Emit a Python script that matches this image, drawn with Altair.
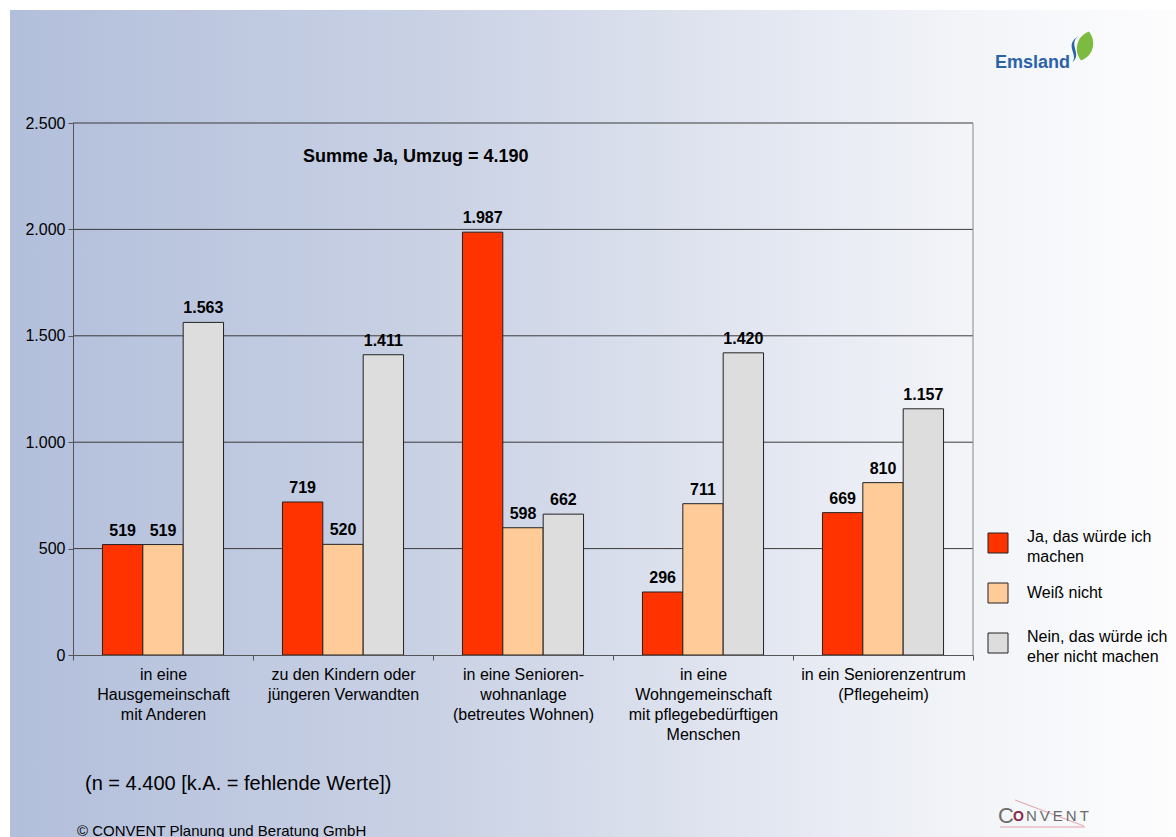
import altair as alt
import pandas as pd

# ---------------- data ----------------
categories = [
    "in eine|Hausgemeinschaft|mit Anderen",
    "zu den Kindern oder|jüngeren Verwandten",
    "in eine Senioren-|wohnanlage|(betreutes Wohnen)",
    "in eine|Wohngemeinschaft|mit pflegebedürftigen|Menschen",
    "in ein Seniorenzentrum|(Pflegeheim)",
]
series = ["Ja, das würde ich|machen", "Weiß nicht", "Nein, das würde ich|eher nicht machen"]
ja_values = [519, 719, 1987, 296, 669]
weiss_values = [519, 520, 598, 711, 810]
nein_values = [1563, 1411, 662, 1420, 1157]
series_colors = ["#FF3300", "#FFCC99", "#DDDDDD"]
y_ticks = [0, 500, 1000, 1500, 2000, 2500]

title_text = "Summe Ja, Umzug = 4.190"
note_text = "(n = 4.400 [k.A. = fehlende Werte])"
copyright_text = "© CONVENT Planung und Beratung GmbH"

rows = []
for ci, cat in enumerate(categories):
    for s, vals in zip(series, [ja_values, weiss_values, nein_values]):
        v = vals[ci]
        rows.append({"Kategorie": cat, "Antwort": s, "Wert": v,
                     "Label": f"{v:,}".replace(",", ".")})
df = pd.DataFrame(rows)

# ---------------- layout ----------------
W, H = 900, 532
PL, PT, PR, PB = 73, 123, 203, 182
FONT = "Liberation Sans, Arial, sans-serif"

one = pd.DataFrame({"a": [0]})

gradient = alt.Gradient(
    gradient="linear",
    stops=[
        alt.GradientStop(color="#b2bfdb", offset=0),
        alt.GradientStop(color="#c9d1e4", offset=0.36),
        alt.GradientStop(color="#e1e5f0", offset=0.62),
        alt.GradientStop(color="#f2f4f8", offset=0.82),
        alt.GradientStop(color="#fdfdfe", offset=1),
    ],
    x1=0, x2=1, y1=0, y2=0,
)

bg = alt.Chart(one).mark_rect(fill=gradient, clip=False).encode(
    x=alt.value(-PL + 10), x2=alt.value(W + PR),
    y=alt.value(-PT + 10), y2=alt.value(H + PB),
)

y_scale = alt.Scale(domain=[0, 2500], nice=False)
y_axis = alt.Axis(
    values=y_ticks, grid=False, tickSize=5, labelPadding=3,
    labelExpr="replace(format(datum.value, ','), ',', '.')",
    labelFontSize=16, labelFont=FONT, labelColor="#000",
    domainColor="#555", tickColor="#555", zindex=1, title=None,
)

grid = alt.Chart(pd.DataFrame({"Wert": y_ticks[1:]})).mark_rule(
    color="#3a3a3a", strokeWidth=1
).encode(y=alt.Y("Wert:Q", scale=y_scale, axis=y_axis, title=None))

right_border = alt.Chart(one).mark_rule(color="#8a8a8a", strokeWidth=1).encode(
    x=alt.value(W), y=alt.value(0), y2=alt.value(H)
)

x_enc = alt.X(
    "Kategorie:N", sort=categories, title=None,
    scale=alt.Scale(paddingInner=0, paddingOuter=0),
    axis=alt.Axis(
        labelExpr="split(datum.label, '|')", labelAngle=0, tickBand="extent",
        tickSize=5, labelPadding=6, labelLineHeight=20, labelFontSize=16,
        labelFont=FONT, labelColor="#000", domainColor="#555", tickColor="#555",
        labelLimit=300, zindex=1,
    ),
)
xo_enc = alt.XOffset(
    "Antwort:N", sort=series,
    scale=alt.Scale(domain=series, paddingOuter=0.73, paddingInner=0),
)
y_enc = alt.Y("Wert:Q", scale=y_scale, title=None, axis=y_axis)

bars = alt.Chart(df).mark_bar(stroke="#222", strokeWidth=1).encode(
    x=x_enc, xOffset=xo_enc, y=y_enc,
    color=alt.Color("Antwort:N", sort=series,
                    scale=alt.Scale(domain=series, range=series_colors), legend=None),
)

labels = alt.Chart(df).mark_text(
    dy=-9, baseline="alphabetic", fontWeight="bold", fontSize=16, font=FONT, color="#000"
).encode(x=x_enc, xOffset=xo_enc, y=y_enc, text="Label:N")


def free_text(txt, x, y, size, weight="normal", color="#000", align="left",
              baseline="alphabetic", **kw):
    return alt.Chart(one).mark_text(
        text=txt, fontSize=size, fontWeight=weight, color=color, font=FONT,
        align=align, baseline=baseline, clip=False, **kw,
    ).encode(x=alt.value(x), y=alt.value(y))


# legend (built from the series list)
legend_layers = []
for i, (s, c) in enumerate(zip(series, series_colors)):
    top = 533 - PT + 50 * i
    lines = s.split("|")
    legend_layers.append(
        alt.Chart(one).mark_rect(fill=c, stroke="#222", strokeWidth=1, clip=False).encode(
            x=alt.value(988 - PL), x2=alt.value(1008 - PL),
            y=alt.value(top), y2=alt.value(top + 20))
    )
    ty = top + (4 if len(lines) > 1 else 10)
    legend_layers.append(
        free_text(lines, 1027 - PL, ty, 16, baseline="middle", lineHeight=20)
    )

title = free_text(title_text, 303 - PL, 162 - PT, 18, "bold")
note = free_text(note_text, 85 - PL, 790 - PT, 20)
copyright_ = free_text(copyright_text, 77 - PL, 836 - PT, 15)

# Emsland logo (approximation)
emsland = free_text("Emsland", 995 - PL, 68 - PT, 18, "bold", "#2a62a8")
leaf = "M0,-1 C0.7,-0.5 0.7,0.5 0,1 C-0.7,0.5 -0.7,-0.5 0,-1 Z"
swoosh = "M0.3,-1 C-0.6,-0.4 0.6,0.4 -0.2,1 C0.3,0.4 -0.9,-0.3 0.3,-1 Z"
leaf1 = alt.Chart(one).mark_point(shape=leaf, filled=True, color="#7cbb3f", size=900,
                                  opacity=1, angle=15).encode(
    x=alt.value(1085 - PL), y=alt.value(46 - PT))
leaf2 = alt.Chart(one).mark_point(shape=swoosh, filled=True, color="#2a62a8", size=700,
                                  opacity=1, angle=0).encode(
    x=alt.value(1075 - PL), y=alt.value(49 - PT))

# CONVENT logo (approximation)
conv_c = free_text("C", 998 - PL, 823 - PT, 22, "normal", "#6d6d6d")
conv_o = free_text("O", 1013 - PL, 821 - PT, 14, "bold", "#8b2a45")
conv_rest = free_text("N\u2009V\u2009E\u2009N\u2009T", 1026 - PL, 821 - PT, 15, "normal", "#6a6a6a")
conv_line = alt.Chart(one).mark_rule(color="#e3a0aa", strokeWidth=1).encode(
    x=alt.value(1000 - PL), x2=alt.value(1085 - PL), y=alt.value(827 - PT))
conv_diag = alt.Chart(one).mark_rule(color="#e3a0aa", strokeWidth=1).encode(
    x=alt.value(1015 - PL), x2=alt.value(1084 - PL), y=alt.value(800 - PT), y2=alt.value(826 - PT))

chart = alt.layer(
    bg, grid, right_border, bars, labels, title, note, copyright_,
    emsland, leaf1, leaf2, conv_line, conv_diag, conv_c, conv_o, conv_rest,
    *legend_layers,
).properties(
    width=W, height=H,
    autosize=alt.AutoSizeParams(type="none"),
    padding={"left": PL, "top": PT, "right": PR, "bottom": PB},
    background="white",
).configure_view(stroke=None)

chart.save("out.html", embed_options={"renderer": "svg", "actions": False})
